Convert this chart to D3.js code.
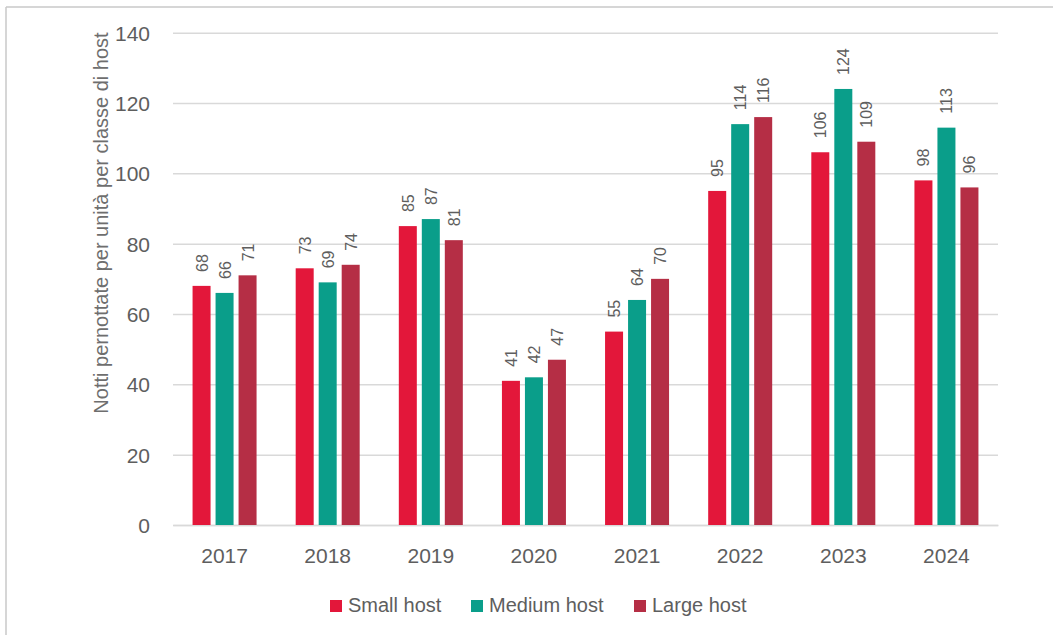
<!DOCTYPE html>
<html><head><meta charset="utf-8">
<script src="https://cdn.jsdelivr.net/npm/d3@7"></script>
<style>
body{margin:0;background:#fff;}
svg{display:block;font-family:"Liberation Sans",Arial,Helvetica,sans-serif;}
</style></head>
<body><svg id="c" width="1053" height="635"></svg>
<script>
const years = ["2017","2018","2019","2020","2021","2022","2023","2024"];
const seriesNames = ["Small host","Medium host","Large host"];
const smallHost = [68,73,85,41,55,95,106,98];
const mediumHost = [66,69,87,42,64,114,124,113];
const largeHost = [71,74,81,47,70,116,109,96];
const yTicks = [0,20,40,60,80,100,120,140];
const colors = ["#E3173A","#0A9E8A","#B52E45"];
const yTitle = "Notti pernottate per unità per classe di host";

const seriesValues = [smallHost, mediumHost, largeHost];
const svg = d3.select("#c");

// frame
svg.append("line").attr("x1",6).attr("x2",1053).attr("y1",7).attr("y2",7).attr("stroke","#c8c8c8").attr("stroke-width",1.5);
svg.append("line").attr("x1",6).attr("x2",6).attr("y1",7).attr("y2",635).attr("stroke","#c8c8c8").attr("stroke-width",1.5);

const x0 = d3.scaleBand().domain(years).range([173,998]).paddingInner(0).paddingOuter(0);
const y = d3.scaleLinear().domain([0,140]).range([525,32.7]);
const barW = 18, step = 23;

// gridlines
const yAxis = d3.axisLeft(y).tickValues(yTicks).tickSize(-(998-173)).tickFormat(d3.format("d"));
const gy = svg.append("g").attr("transform","translate(173,0)").call(yAxis);
gy.select(".domain").remove();
gy.selectAll(".tick line").attr("stroke","#d9d9d9").attr("stroke-width",1.5);
gy.selectAll(".tick text").attr("x",-23).attr("fill","#5e5e5e").style("font-size","21px").attr("dy","0.35em");

// x axis
const xAxis = d3.axisBottom(x0).tickSize(0);
const gx = svg.append("g").attr("transform","translate(0,525)").call(xAxis);
gx.select(".domain").attr("stroke","#d9d9d9").attr("stroke-width",1.5);
gx.selectAll(".tick text").attr("y",23).attr("dy","0.71em").attr("fill","#5e5e5e").style("font-size","21px");

// bars
const data = [];
years.forEach((yr,i)=>seriesValues.forEach((vals,s)=>data.push({yr,s,v:vals[i]})));
const cx = d => x0(d.yr) + x0.bandwidth()/2 + (d.s-1)*step;
svg.append("g").selectAll("rect").data(data).join("rect")
  .attr("x",d=>cx(d)-barW/2).attr("width",barW)
  .attr("y",d=>y(d.v)).attr("height",d=>y(0)-y(d.v))
  .attr("fill",d=>colors[d.s]);

// value labels
svg.append("g").selectAll("text").data(data).join("text")
  .attr("transform",d=>`translate(${cx(d)+6},${y(d.v)-14}) rotate(-90)`)
  .attr("text-anchor","start").attr("fill","#5e5e5e").style("font-size","16px")
  .text(d=>d.v);

// y title
svg.append("text").attr("transform","translate(108,223) rotate(-90)")
  .attr("text-anchor","middle").attr("fill","#6e6e6e").style("font-size","20px").text(yTitle);

// legend
const legX = [330,471,634];
const lg = svg.append("g");
seriesNames.forEach((n,i)=>{
  lg.append("rect").attr("x",legX[i]).attr("y",600).attr("width",12).attr("height",12).attr("fill",colors[i]);
  lg.append("text").attr("x",legX[i]+18).attr("y",612).attr("fill","#5e5e5e").style("font-size","20px").text(n);
});
</script></body></html>
